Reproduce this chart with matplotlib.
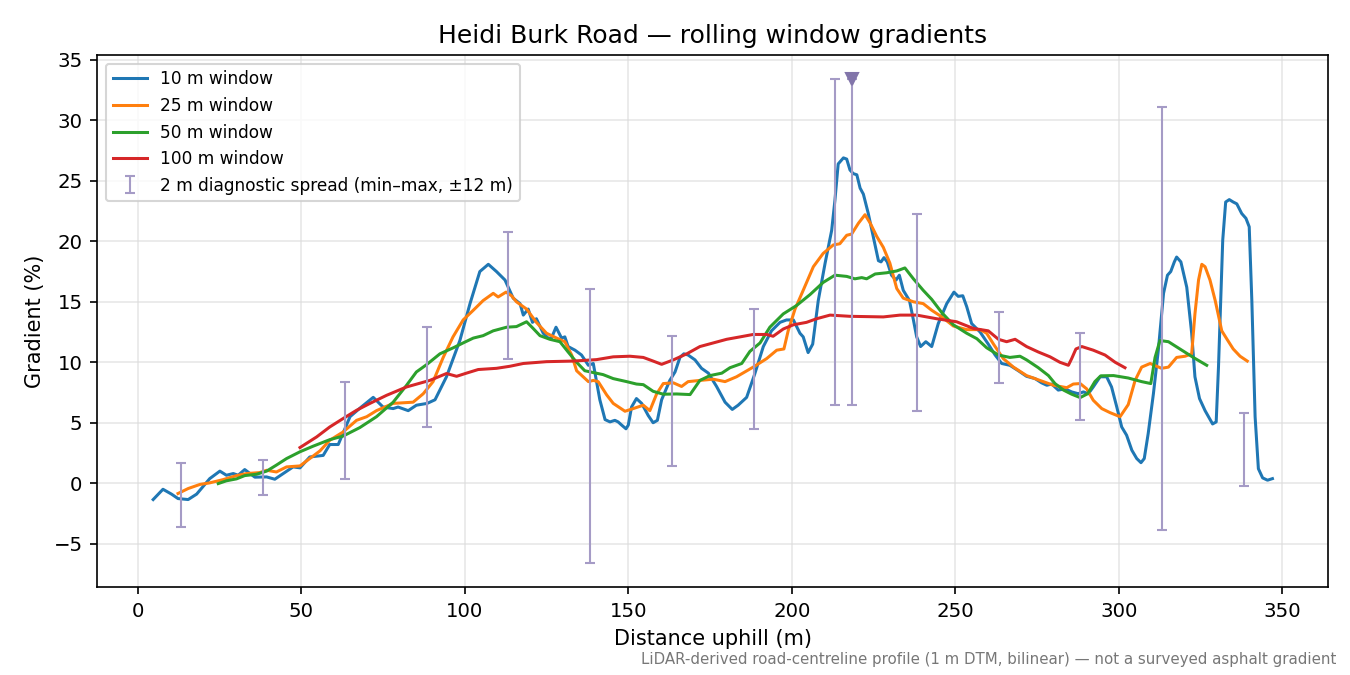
import matplotlib
matplotlib.use("Agg")
import matplotlib.pyplot as plt

# ---- data ----
w10_x = [4.7, 7.7, 10.3, 12.3, 15.4, 18, 22, 25.1, 27.1, 29.2, 30.7, 32.7, 35.8, 39.4, 41.9, 44.5, 47.5, 49.6,
         52.6, 56.7, 58.7, 61.3, 64.9, 67.9, 72, 75, 78.1, 79.6, 82.7, 85.2, 88.5, 90.9, 94.4, 98.5, 101.6,
         104.6, 107.2, 109.7, 112.3, 114.8, 116.9, 117.9, 119.4, 120.7, 121.9, 124, 125.5, 126.5, 127.9,
         129.6, 130.6, 131.6, 133.7, 135.7, 137.8, 139.3, 141.3, 142.9, 144.4, 145.9, 146.9, 148, 149.3,
         150, 151, 152.5, 154.1, 156.1, 157.6, 158.9, 160.2, 162.7, 164.3, 165.8, 167, 168.3, 170.4, 172.4,
         174.5, 177, 179.6, 181.8, 183.6, 186.2, 188.7, 191.3, 193.8, 196.4, 198.4, 200.5, 202.5, 203.5,
         205, 206.4, 208.1, 210.2, 212.2, 213.2, 214.2, 215.8, 216.8, 217.8, 218.8, 219.9, 220.9, 221.9,
         223.4, 224.9, 226.5, 227.3, 228.2, 229.2, 230.5, 231.9, 232.9, 234.1, 236, 237.2, 238.2, 239.4,
         241, 242.8, 244.8, 247.4, 249.6, 250.9, 252.3, 253.5, 255, 257.6, 260.1, 262.2, 264.2, 266.7,
         269.3, 271.8, 274.4, 276.4, 278, 279.5, 281.5, 283.6, 285.6, 287.6, 289.2, 290.7, 292.2, 294.3,
         296.3, 297.8, 299.4, 300.9, 302.4, 304, 305.5, 306.8, 307.8, 309, 310.6, 312.1, 313.7, 314.9,
         315.9, 317, 317.7, 319, 320.8, 322.3, 323.3, 324.7, 326.4, 328.7, 329.8, 330.5, 331.8, 332.7,
         333.8, 335, 336.1, 337.6, 338.9, 339.9, 340.7, 341.7, 342.7, 344, 345.5, 347]
w10_y = [-1.35, -0.5, -0.9, -1.27, -1.35, -0.9, 0.38, 1.0, 0.66, 0.8, 0.66, 1.13, 0.5, 0.52, 0.33, 0.8, 1.35, 1.27,
         2.17, 2.3, 3.2, 3.2, 5.5, 6.2, 7.1, 6.3, 6.17, 6.3, 6.0, 6.45, 6.6, 6.9, 8.8, 11.8, 14.85,
         17.5, 18.1, 17.5, 16.8, 15.3, 14.85, 13.9, 14.4, 13.3, 13.6, 12.4, 12.0, 12.0, 12.9,
         12.0, 12.1, 11.3, 11.0, 10.6, 9.75, 9.9, 6.9, 5.26, 5.07, 5.2, 5.07, 4.8, 4.5,
         4.8, 6.3, 7.0, 6.6, 5.6, 5.0, 5.2, 6.9, 8.5, 9.2, 10.4, 10.7, 10.6, 10.2, 9.5,
         9.1, 8.0, 6.7, 6.1, 6.45, 7.1, 9.05, 11.3, 12.6, 13.3, 13.5, 13.5, 12.4, 12.1,
         10.8, 11.5, 15.1, 18.2, 20.9, 23.4, 26.4, 26.9, 26.8, 25.9, 25.6, 25.5, 24.4, 23.9,
         22.3, 20.4, 18.4, 18.3, 18.65, 18.3, 17.2, 16.8, 17.2, 15.95, 15.1, 13.5, 12.1, 11.3,
         11.7, 11.3, 13.2, 14.85, 15.8, 15.45, 15.5, 14.6, 13.2, 12.5, 11.5, 10.6, 9.9, 9.75,
         9.3, 8.84, 8.65, 8.3, 8.1, 8.2, 7.7, 7.8, 7.55, 7.4, 7.55, 7.4, 7.96, 8.8,
         8.8, 7.96, 6.3, 4.65, 3.97, 2.73, 2.04, 1.7, 2.04, 4.1, 7.4, 11.0, 15.7, 17.2,
         17.5, 18.3, 18.7, 18.3, 16.2, 12.4, 8.8, 7.0, 6.0, 4.9, 5.07, 9.6, 20.1, 23.25,
         23.45, 23.25, 23.1, 22.3, 21.9, 21.2, 15.1, 5.5, 1.2, 0.44, 0.25, 0.38]

w25_x = [12.3, 15.4, 19, 22, 26.1, 30.2, 33.3, 37.3, 39.4, 42.4, 45.5, 49.6, 52.6, 55.7, 58.7, 62.8, 66.9,
         70, 73, 78.1, 84.2, 87.3, 90.3, 93.4, 96.4, 99.5, 102.6, 105.6, 108.7, 110.2, 112.6, 114.3,
         115.8, 118.9, 121.9, 125, 128.1, 130.6, 132.7, 134.2, 136.2, 137.8, 139.3, 140.8, 143.4, 145.4,
         149, 151.5, 154.6, 156.6, 158.7, 160.7, 163.8, 166.3, 168.3, 171.9, 176, 179.6, 183.1, 188.2,
         192.3, 195.4, 197.6, 198.9, 201, 203.5, 206.6, 209.6, 212.7, 214.7, 216.8, 218.3, 220.4, 222.4,
         224, 226, 228, 230, 232.1, 234.1, 237.2, 240.2, 242.8, 245.9, 249.4, 253.5, 257.6, 259.6,
         261.7, 264.7, 267.8, 271.8, 275.9, 280, 284.1, 286.1, 288.2, 290.2, 292.2, 294.8, 297.3,
         300.4, 302.9, 305, 307, 309.6, 313.1, 315.2, 317.7, 320.3, 322.3, 323.3, 324.4, 325.4,
         326.4, 327.9, 329.5, 331.5, 333, 335, 337.1, 339.3]
w25_y = [-0.85, -0.44, -0.1, 0.03, 0.3, 0.63, 0.8, 0.88, 1.07, 0.93, 1.35, 1.43, 2.04, 2.67, 3.55, 4.24, 5.2,
         5.5, 6.0, 6.6, 6.7, 7.4, 8.4, 10.4, 12.1, 13.5, 14.3, 15.1, 15.7, 15.4, 15.8, 15.5,
         15.0, 14.4, 13.3, 12.4, 12.0, 11.7, 10.6, 9.3, 8.8, 8.4, 8.5, 8.4, 7.3, 6.6,
         5.95, 6.17, 6.45, 6.0, 7.4, 8.24, 8.3, 8.0, 8.4, 8.5, 8.6, 8.4, 8.8, 9.6,
         10.3, 11.0, 11.1, 12.6, 14.4, 15.95, 17.9, 19.0, 19.7, 19.8, 20.5, 20.6, 21.5, 22.2,
         21.5, 20.4, 19.5, 18.2, 16.1, 15.3, 15.0, 14.85, 14.3, 13.75, 13.0, 12.7, 12.7, 12.4,
         11.5, 10.3, 9.6, 8.9, 8.5, 8.1, 7.9, 8.2, 8.24, 7.8, 6.86, 6.17, 5.84,
         5.5, 6.5, 8.5, 9.6, 9.9, 9.5, 9.6, 10.4, 10.5, 10.7, 14.0, 16.8, 18.1,
         17.9, 16.8, 15.1, 12.6, 11.95, 11.1, 10.5, 10.1]

w50_x = [24.6, 27.1, 30.2, 32.7, 36.3, 39.4, 42.4, 45.5, 49.6, 53.6, 58.7, 62.8, 67.9, 73, 78.1, 82.2, 85.2,
         88.3, 92.4, 96.5, 99.5, 102.6, 105.6, 108.7, 112.8, 115.8, 118.9, 120.9, 123, 126, 129.1, 131.6,
         134.2, 136.7, 139.3, 142.3, 145.4, 149.5, 152.5, 154.6, 157.6, 160.7, 164.8, 168.9, 171.9, 175,
         178.6, 181.1, 184.7, 187.2, 190.3, 193.3, 197.4, 201.5, 205.6, 209.6, 213.2, 216.8, 219.3, 221.4,
         222.9, 225.5, 229, 232.1, 234.6, 237.2, 240.2, 242.8, 245.9, 249.4, 253.5, 256.6, 259.6, 263.2,
         266.7, 269.8, 271.8, 275.4, 278.5, 280.5, 283.1, 285.6, 288.2, 290.5, 292.7, 294.5, 298.4, 302.9,
         307, 309.8, 311.1, 312.6, 315.2, 318.7, 322.8, 326.9]
w50_y = [-0.03, 0.2, 0.36, 0.63, 0.74, 1.0, 1.5, 2.04, 2.6, 3.06, 3.6, 3.9, 4.6, 5.5, 6.7, 8.1, 9.2,
         9.8, 10.7, 11.2, 11.6, 12.0, 12.2, 12.6, 12.9, 12.95, 13.35, 12.8, 12.2, 11.9, 11.7, 10.85,
         10.0, 9.3, 9.15, 8.98, 8.65, 8.4, 8.2, 8.15, 7.6, 7.36, 7.38, 7.33, 8.5, 8.9,
         9.1, 9.55, 9.9, 10.9, 11.6, 12.9, 14.0, 14.7, 15.6, 16.6, 17.2, 17.1, 16.9, 17.0,
         16.9, 17.3, 17.4, 17.55, 17.8, 16.9, 15.95, 15.2, 14.1, 13.1, 12.4, 11.95, 11.2, 10.6,
         10.4, 10.5, 10.2, 9.55, 8.9, 8.24, 7.7, 7.36, 7.08, 7.4, 8.4, 8.88, 8.9, 8.7,
         8.4, 8.24, 10.4, 11.8, 11.7, 11.1, 10.4, 9.75]

w100_x = [49.6, 54.7, 58.7, 62.8, 66.9, 71, 76.1, 82.2, 89.3, 94.4, 97.5, 100.5, 104.1, 109.7, 113.8, 117.9,
          125, 133.2, 140.3, 145.4, 150.5, 154.6, 157.6, 160.2, 163.8, 167.9, 171.9, 176, 180.1, 184.2,
          188.2, 192.3, 194.3, 197.4, 200.5, 204.5, 207.6, 211.7, 217.8, 228, 233.1, 238.2, 244.3,
          250.4, 255.5, 260.1, 263.2, 265.7, 268.3, 271.8, 275.4, 279, 282, 284.6, 285.6, 286.9, 288.7,
          292.2, 295.8, 298.9, 301.9]
w100_y = [2.95, 3.83, 4.65, 5.35, 6.03, 6.6, 7.27, 7.96, 8.5, 9.07, 8.84, 9.1, 9.4, 9.5, 9.67, 9.9,
          10.05, 10.1, 10.22, 10.45, 10.5, 10.4, 10.1, 9.83, 10.2, 10.7, 11.3, 11.6, 11.9, 12.1,
          12.3, 12.3, 12.15, 12.75, 13.1, 13.3, 13.6, 13.9, 13.8, 13.75, 13.9, 13.9, 13.6,
          13.35, 12.8, 12.6, 11.9, 11.7, 11.9, 11.3, 10.85, 10.45, 10.0, 9.75, 10.3, 11.1, 11.3,
          11.0, 10.6, 10.0, 9.55]

spread_x = [13.3, 38.3, 63.3, 88.3, 113.3, 138.3, 163.3, 188.3, 213.3, 218.5, 238.3, 263.3, 288.3, 313.3, 338.3]
spread_lo = [-3.66, -0.99, 0.36, 4.65, 10.27, -6.58, 1.43, 4.46, 6.5, 6.5, 5.98, 8.29, 5.2, -3.88, -0.22]
spread_hi = [1.68, 1.9, 8.37, 12.92, 20.77, 16.03, 12.15, 14.38, 33.39, 33.4, 22.23, 14.16, 12.42, 31.1, 5.81]

peak_x = [218.5]
peak_y = [33.4]

series = [("10 m window", w10_x, w10_y, "#1f77b4"),
          ("25 m window", w25_x, w25_y, "#ff7f0e"),
          ("50 m window", w50_x, w50_y, "#2ca02c"),
          ("100 m window", w100_x, w100_y, "#d62728")]

fig = plt.figure(figsize=(9, 4.5), dpi=150)
ax = fig.add_axes([0.072, 0.1304, 0.912, 0.788])

for label, xs, ys, c in series:
    ax.plot(xs, ys, color=c, lw=1.45, label=label)

mid = [(a + b) / 2 for a, b in zip(spread_lo, spread_hi)]
err_lo = [m - a for m, a in zip(mid, spread_lo)]
err_hi = [b - m for m, b in zip(mid, spread_hi)]
ax.errorbar(spread_x, mid, yerr=[err_lo, err_hi], fmt="none", ecolor="#a59bc6",
            elinewidth=1.0, capsize=2.5, capthick=1.0,
            label="2 m diagnostic spread (min\u2013max, \u00b112 m)")
ax.plot(peak_x, peak_y, marker="v", color="#8275aa", markersize=6, linestyle="none")

ax.set_title("Heidi Burk Road \u2014 rolling window gradients", fontsize=12)
ax.set_xlabel("Distance uphill (m)", fontsize=10)
ax.set_ylabel("Gradient (%)", fontsize=10)
ax.tick_params(labelsize=9.5)
ax.grid(True, color="#dddddd", alpha=0.7, lw=0.8)
ax.legend(loc="upper left", fontsize=8.2)

fig.text(0.99, 0.012, "LiDAR-derived road-centreline profile (1 m DTM, bilinear) \u2014 not a surveyed asphalt gradient",
         ha="right", va="bottom", fontsize=7.2, color="#777777")

fig.savefig("out.png", dpi=150)
